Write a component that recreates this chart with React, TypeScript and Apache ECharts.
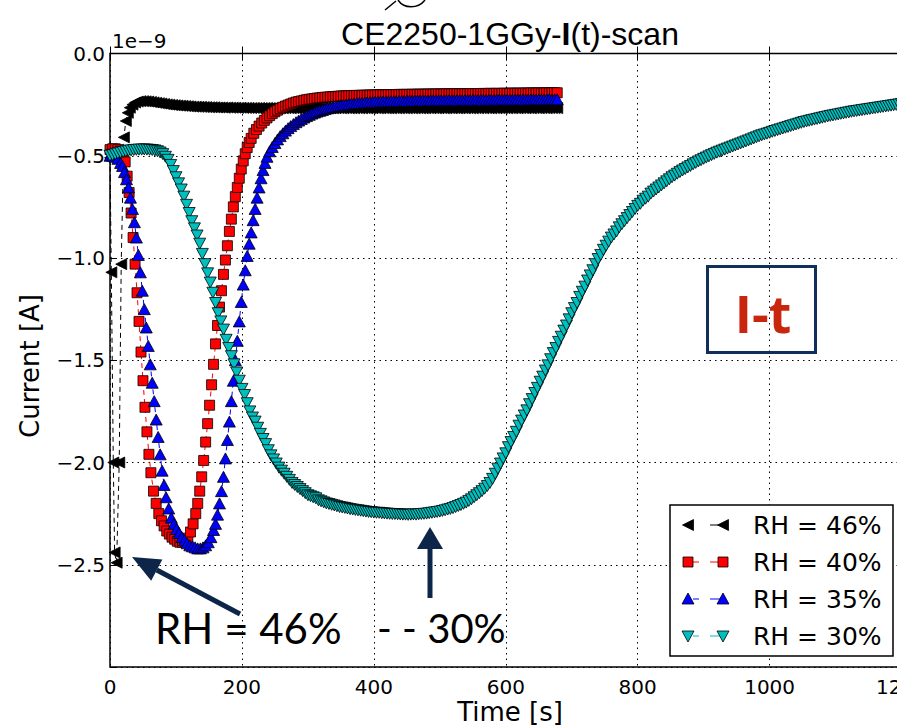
import React, { useEffect, useRef } from 'react';
import * as echarts from 'echarts';

// Current vs. time, [time in s, current in units of 1e-9 A].

const RH46: number[][] = [
  [0, -0.51], [2, -1.07], [5, -2.0], [7, -2.44], [10, -2.49], [14, -2.0], [17, -1.03], [21, -0.41], [24, -0.33], [27, -0.29],
  [30, -0.265], [34, -0.25], [38, -0.24], [42, -0.235], [46, -0.233], [50, -0.233], [54, -0.234], [58, -0.235], [62, -0.237], [66, -0.239],
  [70, -0.241], [74, -0.243], [78, -0.245], [82, -0.247], [86, -0.249], [90, -0.25], [94, -0.252], [98, -0.253], [102, -0.254], [106, -0.255],
  [110, -0.256], [114, -0.257], [118, -0.258], [122, -0.259], [126, -0.26], [130, -0.26], [134, -0.261], [138, -0.261], [142, -0.262], [146, -0.262],
  [150, -0.263], [154, -0.263], [158, -0.263], [162, -0.264], [166, -0.264], [170, -0.264], [174, -0.265], [178, -0.264], [182, -0.265], [186, -0.265],
  [190, -0.265], [194, -0.266], [198, -0.265], [202, -0.266], [206, -0.266], [210, -0.266], [214, -0.267], [218, -0.266], [222, -0.267], [226, -0.266],
  [230, -0.267], [234, -0.267], [238, -0.266], [242, -0.267], [246, -0.267], [250, -0.268], [254, -0.267], [258, -0.267], [262, -0.268], [266, -0.267],
  [270, -0.267], [274, -0.268], [278, -0.267], [282, -0.268], [286, -0.268], [290, -0.267], [294, -0.268], [298, -0.268], [302, -0.267], [306, -0.268],
  [310, -0.268], [314, -0.267], [318, -0.268], [322, -0.268], [326, -0.268], [330, -0.267], [334, -0.268], [338, -0.268], [342, -0.268], [346, -0.267],
  [350, -0.268], [354, -0.268], [358, -0.267], [362, -0.268], [366, -0.268], [370, -0.268], [374, -0.267], [378, -0.268], [382, -0.268], [386, -0.267],
  [390, -0.268], [394, -0.268], [398, -0.268], [402, -0.267], [406, -0.268], [410, -0.268], [414, -0.267], [418, -0.268], [422, -0.268], [426, -0.268],
  [430, -0.267], [434, -0.268], [438, -0.268], [442, -0.267], [446, -0.268], [450, -0.268], [454, -0.267], [458, -0.268], [462, -0.268], [466, -0.267],
  [470, -0.268], [474, -0.268], [478, -0.268], [482, -0.267], [486, -0.268], [490, -0.267], [494, -0.268], [498, -0.268], [502, -0.267], [506, -0.268],
  [510, -0.268], [514, -0.267], [518, -0.268], [522, -0.267], [526, -0.268], [530, -0.268], [534, -0.267], [538, -0.268], [542, -0.267], [546, -0.268],
  [550, -0.268], [554, -0.267], [558, -0.268], [562, -0.267], [566, -0.268], [570, -0.267], [574, -0.268], [578, -0.268], [582, -0.267], [586, -0.268],
  [590, -0.267], [594, -0.268], [598, -0.267], [602, -0.268], [606, -0.267], [610, -0.268], [614, -0.267], [618, -0.268], [622, -0.267], [626, -0.267],
  [630, -0.268], [634, -0.267], [638, -0.268], [642, -0.267], [646, -0.267], [650, -0.268], [654, -0.267], [658, -0.267], [662, -0.268], [666, -0.267],
  [670, -0.267], [674, -0.267], [678, -0.267],
];

const RH40: number[][] = [
  [0, -0.47], [4, -0.466], [8, -0.466], [12, -0.47], [16, -0.478], [20, -0.495],
  [23, -0.53], [26, -0.6], [29, -0.68], [32, -0.78], [35, -0.9], [38, -1.03], [41, -1.17], [44, -1.31], [47, -1.46], [50, -1.6],
  [53, -1.73], [56, -1.85], [59, -1.96], [62, -2.05],
  [66, -2.14], [70, -2.2], [74, -2.25], [78, -2.285], [82, -2.31], [86, -2.335], [90, -2.35], [94, -2.365], [98, -2.375], [102, -2.385],
  [106, -2.39], [110, -2.39], [114, -2.385], [118, -2.37], [122, -2.34], [126, -2.3], [130, -2.25],
  [133, -2.2], [136, -2.14], [139, -2.07], [142, -1.99], [145, -1.9], [148, -1.81], [151, -1.72], [154, -1.62], [157, -1.52], [160, -1.42],
  [163, -1.33], [166, -1.24], [169, -1.16], [172, -1.08], [175, -1.01], [178, -0.94], [181, -0.87], [184, -0.81], [187, -0.75], [190, -0.7],
  [193, -0.655], [196, -0.61], [199, -0.565], [202, -0.525], [205, -0.49], [208, -0.46], [211, -0.435], [214, -0.415],
  [218, -0.39], [222, -0.372], [226, -0.355], [230, -0.34], [234, -0.327], [238, -0.315], [242, -0.304], [246, -0.294], [250, -0.285], [254, -0.277],
  [258, -0.27], [262, -0.263], [266, -0.257], [270, -0.252], [274, -0.247], [278, -0.242], [282, -0.238], [286, -0.235], [290, -0.232], [294, -0.229],
  [298, -0.226], [302, -0.224], [306, -0.222], [310, -0.22], [314, -0.218], [318, -0.217], [322, -0.215], [326, -0.214], [330, -0.213], [334, -0.212],
  [338, -0.211], [342, -0.21], [346, -0.209], [350, -0.208], [354, -0.207], [358, -0.207], [362, -0.206], [366, -0.206], [370, -0.205], [374, -0.205],
  [378, -0.205], [382, -0.204], [386, -0.204], [390, -0.204], [394, -0.203], [398, -0.203], [402, -0.203], [406, -0.202], [410, -0.202], [414, -0.202],
  [418, -0.202], [422, -0.201], [426, -0.201], [430, -0.201], [434, -0.201], [438, -0.2], [442, -0.2], [446, -0.2], [450, -0.2], [454, -0.2],
  [458, -0.199], [462, -0.2], [466, -0.199], [470, -0.199], [474, -0.199], [478, -0.199], [482, -0.198], [486, -0.199], [490, -0.198], [494, -0.198],
  [498, -0.198], [502, -0.198], [506, -0.198], [510, -0.197], [514, -0.198], [518, -0.197], [522, -0.197], [526, -0.197], [530, -0.197], [534, -0.197],
  [538, -0.196], [542, -0.197], [546, -0.196], [550, -0.196], [554, -0.196], [558, -0.196], [562, -0.196], [566, -0.195], [570, -0.196], [574, -0.195],
  [578, -0.195], [582, -0.195], [586, -0.195], [590, -0.195], [594, -0.195], [598, -0.194], [602, -0.195], [606, -0.194], [610, -0.194], [614, -0.194],
  [618, -0.194], [622, -0.194], [626, -0.194], [630, -0.193], [634, -0.194], [638, -0.193], [642, -0.193], [646, -0.193], [650, -0.193], [654, -0.193],
  [658, -0.193], [662, -0.192], [666, -0.193], [670, -0.192], [674, -0.192], [678, -0.192],
];

const RH35: number[][] = [
  [0, -0.5], [4, -0.5], [8, -0.505], [12, -0.515], [16, -0.535],
  [19, -0.55], [22, -0.58], [25, -0.615], [28, -0.655], [31, -0.705], [34, -0.76], [37, -0.825], [40, -0.9], [43, -0.985], [46, -1.07],
  [49, -1.16], [52, -1.25], [55, -1.34], [58, -1.43], [61, -1.52], [64, -1.61], [67, -1.7], [70, -1.79], [73, -1.875], [76, -1.96],
  [79, -2.04], [82, -2.11], [85, -2.17],
  [89, -2.225], [93, -2.27], [97, -2.3], [101, -2.325], [105, -2.345], [109, -2.365], [113, -2.38], [117, -2.395], [121, -2.405], [125, -2.41],
  [129, -2.415], [133, -2.42], [137, -2.42], [141, -2.415], [145, -2.405], [149, -2.39], [153, -2.365], [157, -2.33],
  [160, -2.3], [163, -2.255], [166, -2.2], [169, -2.14], [172, -2.07], [175, -1.98], [178, -1.89], [181, -1.8], [184, -1.7], [187, -1.6],
  [190, -1.5], [193, -1.405], [196, -1.31], [199, -1.215], [202, -1.13], [205, -1.06], [208, -0.99], [211, -0.93], [214, -0.875], [217, -0.815],
  [220, -0.76], [223, -0.705], [226, -0.655], [229, -0.61], [232, -0.57], [235, -0.535], [238, -0.505],
  [242, -0.478], [246, -0.457], [250, -0.438], [254, -0.42], [258, -0.404], [262, -0.39], [266, -0.377], [270, -0.365], [274, -0.355], [278, -0.345],
  [282, -0.336], [286, -0.328], [290, -0.32], [294, -0.313], [298, -0.306], [302, -0.3], [306, -0.294], [310, -0.289], [314, -0.284], [318, -0.28],
  [322, -0.276], [326, -0.272], [330, -0.268], [334, -0.265], [338, -0.262], [342, -0.259], [346, -0.256], [350, -0.254], [354, -0.252], [358, -0.25],
  [362, -0.248], [366, -0.246], [370, -0.245], [374, -0.243], [378, -0.242], [382, -0.241], [386, -0.24], [390, -0.239], [394, -0.238], [398, -0.237],
  [402, -0.236], [406, -0.236], [410, -0.235], [414, -0.235], [418, -0.234], [422, -0.234], [426, -0.233], [430, -0.233], [434, -0.233], [438, -0.232],
  [442, -0.232], [446, -0.232], [450, -0.231], [454, -0.231], [458, -0.231], [462, -0.231], [466, -0.23], [470, -0.23], [474, -0.23], [478, -0.23],
  [482, -0.23], [486, -0.229], [490, -0.229], [494, -0.229], [498, -0.229], [502, -0.229], [506, -0.229], [510, -0.228], [514, -0.229], [518, -0.228],
  [522, -0.228], [526, -0.228], [530, -0.228], [534, -0.228], [538, -0.228], [542, -0.227], [546, -0.228], [550, -0.227], [554, -0.227], [558, -0.227],
  [562, -0.227], [566, -0.227], [570, -0.227], [574, -0.227], [578, -0.226], [582, -0.227], [586, -0.226], [590, -0.226], [594, -0.226], [598, -0.226],
  [602, -0.226], [606, -0.226], [610, -0.226], [614, -0.226], [618, -0.225], [622, -0.226], [626, -0.225], [630, -0.226], [634, -0.225], [638, -0.225],
  [642, -0.225], [646, -0.225], [650, -0.225], [654, -0.225], [658, -0.225], [662, -0.225], [666, -0.224], [670, -0.225], [674, -0.224], [678, -0.224],
];

const RH30: number[][] = [
  [0, -0.5], [4, -0.497], [8, -0.493], [12, -0.489], [16, -0.485], [20, -0.482], [24, -0.479], [28, -0.476], [32, -0.474], [36, -0.472],
  [40, -0.471], [44, -0.47], [48, -0.47], [52, -0.469], [56, -0.47], [60, -0.471], [64, -0.472], [68, -0.474], [72, -0.478], [76, -0.484],
  [80, -0.492], [84, -0.505], [88, -0.52], [92, -0.545], [96, -0.575], [100, -0.605], [104, -0.635], [108, -0.665], [112, -0.7], [116, -0.74],
  [120, -0.78], [124, -0.82], [128, -0.855], [132, -0.89], [136, -0.93], [140, -0.98], [144, -1.03], [148, -1.075], [152, -1.12], [156, -1.17],
  [160, -1.22], [164, -1.27], [168, -1.31], [172, -1.35], [176, -1.4], [180, -1.44], [184, -1.48], [188, -1.52], [192, -1.56], [196, -1.6],
  [200, -1.64], [204, -1.67], [208, -1.71], [212, -1.75], [216, -1.78], [220, -1.8], [224, -1.83], [228, -1.86], [232, -1.885], [236, -1.91],
  [240, -1.94], [244, -1.965], [248, -1.985], [252, -2.005], [256, -2.025], [260, -2.04], [264, -2.055], [268, -2.07], [272, -2.085], [276, -2.1],
  [280, -2.11], [284, -2.12], [288, -2.13], [292, -2.14], [296, -2.15], [300, -2.16], [304, -2.165], [308, -2.17], [312, -2.175], [316, -2.185],
  [320, -2.19], [324, -2.195], [328, -2.2], [332, -2.203], [336, -2.207], [340, -2.21], [344, -2.214], [348, -2.218], [352, -2.22], [356, -2.222],
  [360, -2.225], [364, -2.228], [368, -2.23], [372, -2.232], [376, -2.234], [380, -2.236], [384, -2.238], [388, -2.24], [392, -2.242], [396, -2.243],
  [400, -2.245], [404, -2.246], [408, -2.246], [412, -2.248], [416, -2.249], [420, -2.25], [424, -2.251], [428, -2.252], [432, -2.252], [436, -2.253],
  [440, -2.254], [444, -2.255], [448, -2.255], [452, -2.256], [456, -2.255], [460, -2.254], [464, -2.255], [468, -2.253], [472, -2.252], [476, -2.251],
  [480, -2.25], [484, -2.248], [488, -2.246], [492, -2.244], [496, -2.242], [500, -2.24], [504, -2.237], [508, -2.234], [512, -2.23], [516, -2.227],
  [520, -2.223], [524, -2.218], [528, -2.213], [532, -2.208], [536, -2.202], [540, -2.196], [544, -2.188], [548, -2.18], [552, -2.17], [556, -2.16],
  [560, -2.15], [564, -2.14], [568, -2.128], [572, -2.115], [576, -2.1], [580, -2.08], [584, -2.055], [588, -2.03], [592, -2.005], [596, -1.98],
  [600, -1.955], [604, -1.925], [608, -1.9], [612, -1.875], [616, -1.85], [620, -1.82], [624, -1.795], [628, -1.77], [632, -1.745], [636, -1.715],
  [640, -1.69], [644, -1.66], [648, -1.635], [652, -1.605], [656, -1.58], [660, -1.55], [664, -1.525], [668, -1.495], [672, -1.465], [676, -1.44],
  [680, -1.41], [684, -1.385], [688, -1.355], [692, -1.33], [696, -1.3], [700, -1.27], [704, -1.245], [708, -1.22], [712, -1.19], [716, -1.165],
  [720, -1.14], [724, -1.11], [728, -1.085], [732, -1.06], [736, -1.03], [740, -1.005], [744, -0.985], [748, -0.96], [752, -0.94], [756, -0.92],
  [760, -0.9], [764, -0.885], [768, -0.87], [772, -0.85], [776, -0.835], [780, -0.82], [784, -0.805], [788, -0.79], [792, -0.775], [796, -0.76],
  [800, -0.745], [804, -0.735], [808, -0.72], [812, -0.71], [816, -0.7], [820, -0.685], [824, -0.675], [828, -0.665], [832, -0.655], [836, -0.645],
  [840, -0.635], [844, -0.625], [848, -0.615], [852, -0.605], [856, -0.597], [860, -0.588], [864, -0.58], [868, -0.572], [872, -0.565], [876, -0.557],
  [880, -0.55], [884, -0.542], [888, -0.535], [892, -0.528], [896, -0.522], [900, -0.515], [904, -0.509], [908, -0.503], [912, -0.497], [916, -0.491],
  [920, -0.485], [924, -0.48], [928, -0.475], [932, -0.47], [936, -0.465], [940, -0.46], [944, -0.455], [948, -0.45], [952, -0.445], [956, -0.44],
  [960, -0.435], [964, -0.43], [968, -0.425], [972, -0.42], [976, -0.415], [980, -0.41], [984, -0.405], [988, -0.4], [992, -0.396], [996, -0.392],
  [1000, -0.388], [1004, -0.383], [1008, -0.379], [1012, -0.375], [1016, -0.371], [1020, -0.367], [1024, -0.363], [1028, -0.359], [1032, -0.355], [1036, -0.351],
  [1040, -0.347], [1044, -0.343], [1048, -0.339], [1052, -0.335], [1056, -0.332], [1060, -0.329], [1064, -0.326], [1068, -0.323], [1072, -0.32], [1076, -0.317],
  [1080, -0.314], [1084, -0.311], [1088, -0.308], [1092, -0.305], [1096, -0.303], [1100, -0.3], [1104, -0.298], [1108, -0.295], [1112, -0.293], [1116, -0.29],
  [1120, -0.288], [1124, -0.285], [1128, -0.283], [1132, -0.281], [1136, -0.279], [1140, -0.277], [1144, -0.275], [1148, -0.273], [1152, -0.271], [1156, -0.269],
  [1160, -0.267], [1164, -0.265], [1168, -0.263], [1172, -0.261], [1176, -0.259], [1180, -0.257], [1184, -0.255], [1188, -0.253], [1192, -0.251], [1196, -0.249],
  [1200, -0.247],
];

const SERIES_NAMES = ['RH = 46%', 'RH = 40%', 'RH = 35%', 'RH = 30%'];
const X_MIN = 0;
const X_MAX = 1200;
const X_STEP = 200;
const Y_MIN = -3.0;
const Y_MAX = 0.0;
const Y_STEP = 0.5;

const TITLE = '{n|CE2250-1GGy-}{b|I}{n|(t)-scan}';
const X_NAME = 'Time [s]';
const Y_NAME = 'Current [A]';
const OFFSET_TEXT = '1e\u22129';
const BADGE = 'I-t';
const NOTE_LEFT = 'RH = 46%';
const NOTE_RIGHT = '- - 30%';

const MONO = 'DejaVu Sans';
const NAVY = '#0d2548';

type Marker = 'left' | 'square' | 'up' | 'down';
const STYLES: { color: string; marker: Marker }[] = [
  { color: '#000000', marker: 'left' },
  { color: '#ff0000', marker: 'square' },
  { color: '#0000ff', marker: 'up' },
  { color: '#00bfbf', marker: 'down' },
];

const DATA = [RH46, RH40, RH35, RH30];

function symbolOf(m: Marker) {
  if (m === 'square') return { symbol: 'rect', symbolSize: 10, symbolRotate: 0 };
  if (m === 'left') return { symbol: 'triangle', symbolSize: [11, 11], symbolRotate: 90 };
  if (m === 'down') return { symbol: 'triangle', symbolSize: [12, 11], symbolRotate: 180 };
  return { symbol: 'triangle', symbolSize: [12, 11], symbolRotate: 0 };
}

function legendMarker(m: Marker, cx: number, cy: number, color: string) {
  const style = { fill: color, stroke: '#000', lineWidth: 0.8 };
  if (m === 'square') return { type: 'rect', shape: { x: cx - 5, y: cy - 5, width: 10, height: 10 }, style, z: 101 };
  let pts: number[][];
  if (m === 'left') pts = [[cx - 5.5, cy], [cx + 5.5, cy - 5.5], [cx + 5.5, cy + 5.5]];
  else if (m === 'up') pts = [[cx, cy - 6], [cx + 6, cy + 5], [cx - 6, cy + 5]];
  else pts = [[cx, cy + 6], [cx + 6, cy - 5], [cx - 6, cy - 5]];
  return { type: 'polygon', shape: { points: pts }, style, z: 101 };
}

function buildOption() {
  const series = DATA.map((d, i) => ({
    name: SERIES_NAMES[i],
    type: 'line',
    data: d,
    ...symbolOf(STYLES[i].marker),
    showAllSymbol: true,
    silent: true,
    clip: true,
    itemStyle: { color: STYLES[i].color, borderColor: '#000', borderWidth: 0.8 },
    lineStyle: { color: STYLES[i].color, width: 1, type: [5, 4] },
    emphasis: { disabled: true },
    z: 3 + i,
  }));

  const legend: any[] = [
    {
      type: 'rect',
      shape: { x: 670, y: 505, width: 223, height: 151 },
      style: { fill: '#fff', stroke: '#000', lineWidth: 1.5 },
      z: 100,
    },
  ];
  SERIES_NAMES.forEach((name, i) => {
    const cy = 525 + 37 * i;
    const c = STYLES[i].color;
    if (STYLES[i].marker !== 'left') {
      legend.push({ type: 'line', shape: { x1: 693, y1: cy, x2: 699, y2: cy }, style: { stroke: c, lineWidth: 1 }, z: 100 });
    }
    legend.push({ type: 'line', shape: { x1: 710, y1: cy, x2: 722, y2: cy }, style: { stroke: c, lineWidth: 1 }, z: 100 });
    legend.push(legendMarker(STYLES[i].marker, 688, cy, c));
    legend.push(legendMarker(STYLES[i].marker, 723, cy, c));
    legend.push({
      type: 'text',
      x: 753,
      y: cy,
      style: { text: name, fontFamily: MONO, fontSize: 25, fill: '#000', align: 'left', verticalAlign: 'middle' },
      z: 101,
    });
  });

  // arrow from the note towards the RH = 46% dip
  const tail = [240, 614];
  const tip = [132, 557];
  const dx = tip[0] - tail[0];
  const dy = tip[1] - tail[1];
  const len = Math.hypot(dx, dy);
  const ux = dx / len;
  const uy = dy / len;
  const bx = tip[0] - ux * 28;
  const by = tip[1] - uy * 28;
  const nx = -uy;
  const ny = ux;

  const graphic: any[] = [
    {
      type: 'text',
      x: 510,
      y: 34,
      style: {
        text: TITLE,
        align: 'center',
        verticalAlign: 'middle',
        fill: '#000',
        rich: {
          n: { fontFamily: 'Liberation Sans', fontSize: 32, fill: '#000' },
          b: { fontFamily: 'Liberation Sans', fontSize: 32, fontWeight: 'bold', fill: '#000' },
        },
      },
    },
    {
      type: 'polyline',
      shape: { points: [[385, 10], [396, 1]] },
      style: { stroke: '#000', lineWidth: 1.5, fill: 'none' },
    },
    {
      type: 'bezierCurve',
      shape: { x1: 398, y1: 0, cpx1: 404, cpy1: 9, cpx2: 418, cpy2: 9, x2: 425, y2: 0 },
      style: { stroke: '#000', lineWidth: 1.5, fill: 'none' },
    },
    {
      type: 'text',
      x: 112,
      y: 41,
      style: { text: OFFSET_TEXT, fontFamily: MONO, fontSize: 20, fill: '#000', align: 'left', verticalAlign: 'middle' },
    },
    {
      type: 'text',
      x: 30,
      y: 366,
      rotation: Math.PI / 2,
      style: { text: Y_NAME, fontFamily: MONO, fontSize: 26, fill: '#000', align: 'center', verticalAlign: 'middle' },
    },
    {
      type: 'text',
      x: 510,
      y: 712,
      style: { text: X_NAME, fontFamily: MONO, fontSize: 26, fill: '#000', align: 'center', verticalAlign: 'middle' },
    },
    {
      type: 'rect',
      shape: { x: 707.5, y: 266.5, width: 108, height: 86 },
      style: { fill: 'none', stroke: '#10305a', lineWidth: 3 },
      z: 100,
    },
    {
      type: 'text',
      x: 763,
      y: 312,
      style: { text: BADGE, fontFamily: 'Open Sans', fontWeight: 'bold', fontSize: 52, fill: '#c9270d', align: 'center', verticalAlign: 'middle' },
      z: 100,
    },
    {
      type: 'text',
      x: 155,
      y: 628,
      style: { text: NOTE_LEFT, fontFamily: 'Lato', fontSize: 42, fill: '#000', align: 'left', verticalAlign: 'middle' },
      z: 100,
    },
    {
      type: 'text',
      x: 377,
      y: 628,
      style: { text: NOTE_RIGHT, fontFamily: 'Lato', fontSize: 40, fill: '#000', align: 'left', verticalAlign: 'middle' },
      z: 100,
    },
    {
      type: 'line',
      shape: { x1: tail[0], y1: tail[1], x2: bx, y2: by },
      style: { stroke: NAVY, lineWidth: 5 },
      z: 100,
    },
    {
      type: 'polygon',
      shape: { points: [tip, [bx + nx * 12, by + ny * 12], [bx - nx * 12, by - ny * 12]] },
      style: { fill: NAVY },
      z: 100,
    },
    {
      type: 'line',
      shape: { x1: 430, y1: 598, x2: 430, y2: 545 },
      style: { stroke: NAVY, lineWidth: 5 },
      z: 100,
    },
    {
      type: 'polygon',
      shape: { points: [[430, 527], [443, 549], [417, 549]] },
      style: { fill: NAVY },
      z: 100,
    },
    ...legend,
  ];

  const gridLine = { show: true, lineStyle: { color: '#000', width: 1, type: [1.5, 4] } };

  return {
    animation: false,
    backgroundColor: '#fff',
    textStyle: { fontFamily: MONO },
    grid: {
      left: 110,
      top: 53.5,
      right: 25,
      bottom: 61,
      show: true,
      borderColor: '#000',
      borderWidth: 1.5,
      backgroundColor: 'transparent',
    },
    xAxis: [
      {
        type: 'value',
        min: X_MIN,
        max: X_MAX,
        interval: X_STEP,
        axisLine: { show: false },
        axisTick: { show: true, inside: true, length: 7, lineStyle: { color: '#000', width: 1 } },
        axisLabel: { show: true, margin: 10, fontFamily: MONO, fontSize: 20, color: '#000', formatter: (v: number) => String(v) },
        splitLine: gridLine,
      },
      {
        type: 'value',
        position: 'top',
        min: X_MIN,
        max: X_MAX,
        interval: X_STEP,
        axisLine: { show: false },
        axisTick: { show: true, inside: true, length: 7, lineStyle: { color: '#000', width: 1 } },
        axisLabel: { show: false },
        splitLine: { show: false },
      },
    ],
    yAxis: {
      type: 'value',
      min: Y_MIN,
      max: Y_MAX,
      interval: Y_STEP,
      axisLine: { show: false },
      axisTick: { show: true, inside: true, length: 7, lineStyle: { color: '#000', width: 1 } },
      axisLabel: {
        margin: 5,
        fontFamily: MONO,
        fontSize: 20,
        color: '#000',
        formatter: (v: number) => {
          if (Math.abs(v - Y_MIN) < 1e-9) return '';
          if (v === 0) return '0.0';
          return '\u2212' + Math.abs(v).toFixed(1);
        },
      },
      splitLine: gridLine,
    },
    series,
    graphic,
  };
}

export default function App() {
  const ref = useRef<HTMLDivElement>(null);
  useEffect(() => {
    if (!ref.current) return;
    const chart = echarts.init(ref.current, null, { renderer: 'svg' });
    chart.setOption(buildOption() as any);
    return () => chart.dispose();
  }, []);
  return (
    <div
      style={{
        position: 'fixed',
        left: 0,
        top: 0,
        width: 897,
        height: 728,
        overflow: 'hidden',
        background: '#fff',
      }}
    >
      <div ref={ref} style={{ width: 930, height: 728 }} />
    </div>
  );
}
